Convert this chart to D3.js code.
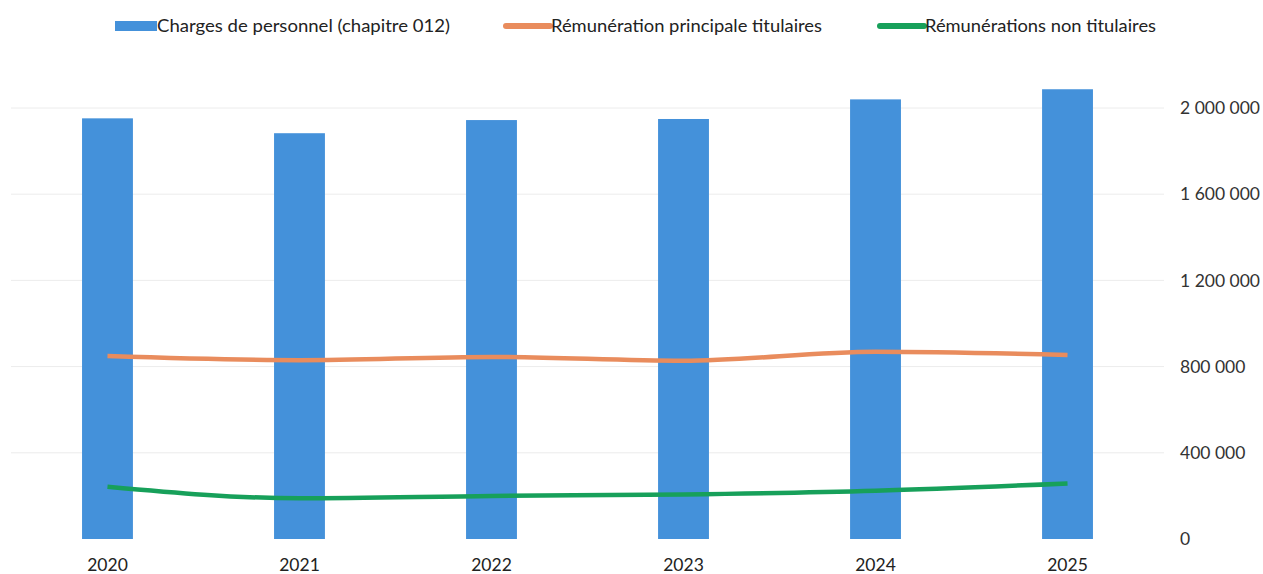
<!DOCTYPE html>
<html>
<head>
<meta charset="utf-8">
<script src="https://cdn.jsdelivr.net/npm/d3@7"></script>
<style>
  body { margin: 0; background: #fff; }
  text { font-family: Lato, "Open Sans", sans-serif; }
</style>
</head>
<body>
<svg id="chart" width="1263" height="574"></svg>
<script>
// data
const years = ["2020", "2021", "2022", "2023", "2024", "2025"];
const charges = [1952000, 1883000, 1944000, 1949000, 2040000, 2087000];
const remTitulaires = [849000, 830000, 845000, 827000, 869000, 854000];
const remNonTitulaires = [243000, 189000, 200000, 207000, 224000, 258000];
const yTicks = [0, 400000, 800000, 1200000, 1600000, 2000000];
const seriesNames = ["Charges de personnel (chapitre 012)", "Rémunération principale titulaires", "Rémunérations non titulaires"];

const blue = "#4491da", orange = "#e98c5d", green = "#17a05a";

const svg = d3.select("#chart");

const x = d3.scaleBand()
  .domain(years)
  .range([11, 1164])
  .paddingInner(0.735)
  .paddingOuter(0.37);

const y = d3.scaleLinear()
  .domain([0, 2000000])
  .range([539, 108]);

// gridlines
svg.append("g")
  .selectAll("line")
  .data(yTicks.slice(1))
  .enter()
  .append("line")
  .attr("x1", 11)
  .attr("x2", 1164)
  .attr("y1", d => y(d))
  .attr("y2", d => y(d))
  .attr("stroke", "#ececec")
  .attr("stroke-width", 1);

// bars
svg.append("g")
  .selectAll("rect")
  .data(charges)
  .enter()
  .append("rect")
  .attr("x", (d, i) => x(years[i]))
  .attr("y", d => y(d))
  .attr("width", x.bandwidth())
  .attr("height", d => y(0) - y(d))
  .attr("fill", blue);

// lines
const line = d3.line()
  .x((d, i) => x(years[i]) + x.bandwidth() / 2)
  .y(d => y(d))
  .curve(d3.curveMonotoneX);

svg.append("path")
  .attr("d", line(remTitulaires))
  .attr("fill", "none")
  .attr("stroke", orange)
  .attr("stroke-width", 4.5);

svg.append("path")
  .attr("d", line(remNonTitulaires))
  .attr("fill", "none")
  .attr("stroke", green)
  .attr("stroke-width", 4.5);

// x axis
const xAxis = svg.append("g")
  .attr("transform", "translate(0,539)")
  .call(d3.axisBottom(x).tickSize(0).tickPadding(20));
xAxis.select(".domain").remove();
xAxis.selectAll("text")
  .attr("font-size", 17.5)
  .attr("fill", "#222")
  .attr("font-family", "Lato, sans-serif");

// y axis on the right
const fmt = v => d3.format(",")(v).replace(/,/g, " ");
const yAxis = svg.append("g")
  .attr("transform", "translate(1180,0)")
  .call(d3.axisRight(y).tickValues(yTicks).tickSize(0).tickPadding(0).tickFormat(fmt));
yAxis.select(".domain").remove();
yAxis.selectAll("text")
  .attr("font-size", 17.5)
  .attr("fill", "#333")
  .attr("font-family", "Lato, sans-serif");

// legend
const legendItems = [
  { name: seriesNames[0], color: blue, x: 115, type: "rect", w: 293 },
  { name: seriesNames[1], color: orange, x: 504, type: "line", w: 271 },
  { name: seriesNames[2], color: green, x: 878, type: "line", w: 231 }
];
const lg = svg.append("g").selectAll("g")
  .data(legendItems)
  .enter()
  .append("g")
  .attr("transform", d => `translate(${d.x},26)`);

lg.filter(d => d.type === "rect")
  .append("rect")
  .attr("x", 0).attr("y", -5)
  .attr("width", 42).attr("height", 10)
  .attr("fill", d => d.color);

lg.filter(d => d.type === "line")
  .append("line")
  .attr("x1", 2).attr("x2", 46)
  .attr("stroke", d => d.color)
  .attr("stroke-width", 6)
  .attr("stroke-linecap", "round");

lg.append("text")
  .attr("x", d => d.type === "rect" ? 42 : 47)
  .attr("dy", "0.35em")
  .attr("font-size", 17)
  .attr("fill", "#222")
  .attr("textLength", d => d.w)
  .attr("lengthAdjust", "spacingAndGlyphs")
  .text(d => d.name);
</script>
</body>
</html>
